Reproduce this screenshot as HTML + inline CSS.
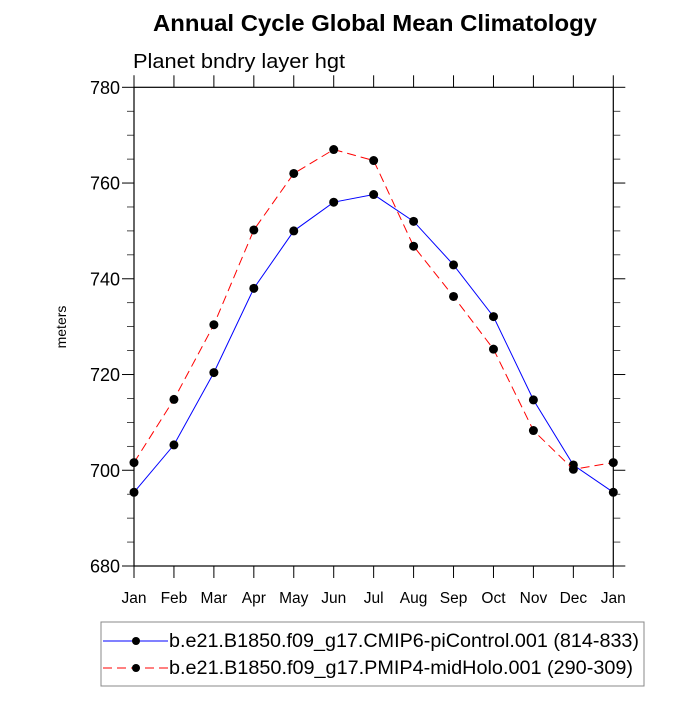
<!DOCTYPE html>
<html><head><meta charset="utf-8"><style>
body{margin:0;background:#fff;font-family:"Liberation Sans",sans-serif}
</style></head><body>
<svg id="chart" width="700" height="700" xmlns="http://www.w3.org/2000/svg" font-family="Liberation Sans, sans-serif">
<text x="153" y="31" font-size="23" font-weight="bold" textLength="444" lengthAdjust="spacingAndGlyphs">Annual Cycle Global Mean Climatology</text>
<text x="133" y="68" font-size="20" textLength="212" lengthAdjust="spacingAndGlyphs">Planet bndry layer hgt</text>
<text transform="translate(66,327) rotate(-90)" text-anchor="middle" font-size="14">meters</text>
<rect x="134" y="87.3" width="479.3" height="478.7" fill="none" stroke="#000" stroke-width="1.2"/>
<g id="axes"></g>
<g id="series"></g>
<g>
<rect x="101" y="622" width="543" height="64" fill="none" stroke="#888" stroke-width="1"/>
<g>
<line x1="103" y1="641" x2="168" y2="641" stroke="#00f" stroke-width="1"/>
<circle cx="136" cy="641" r="4" fill="#000"/>
<text x="169" y="647" font-size="19" textLength="470" lengthAdjust="spacingAndGlyphs">b.e21.B1850.f09_g17.CMIP6-piControl.001 (814-833)</text>
</g>
<g>
<line x1="103" y1="668" x2="168" y2="668" stroke="#f00" stroke-width="1" stroke-dasharray="9,5"/>
<circle cx="136" cy="668" r="4" fill="#000"/>
<text x="169" y="674" font-size="19" textLength="464" lengthAdjust="spacingAndGlyphs">b.e21.B1850.f09_g17.PMIP4-midHolo.001 (290-309)</text>
</g>
</g>
</svg>
<script>
const months = ["Jan","Feb","Mar","Apr","May","Jun","Jul","Aug","Sep","Oct","Nov","Dec","Jan"];
const piControl = [695.4,705.3,720.4,738.0,750.0,756.0,757.6,752.0,742.9,732.1,714.7,701.1,695.4];
const midHolo = [701.6,714.8,730.4,750.2,762.0,767.0,764.7,746.8,736.3,725.3,708.3,700.2,701.6];
const yTicks = [680,700,720,740,760,780];
const NS="http://www.w3.org/2000/svg";
const X0=134,X1=613.3,Y0=566,Y1=87.3,YMIN=680,YMAX=780;
const xs=i=>X0+i*(X1-X0)/(months.length-1);
const ys=v=>Y0-(v-YMIN)*(Y0-Y1)/(YMAX-YMIN);
function mk(tag,attrs,parent){const e=document.createElementNS(NS,tag);for(const k in attrs)e.setAttribute(k,attrs[k]);parent.appendChild(e);return e;}
const ax=document.getElementById('axes');
months.forEach((m,i)=>{
  const x=xs(i);
  const t1=mk('line',{x1:x,y1:Y0,x2:x,y2:Y0+12,stroke:'#000','stroke-width':1},ax);
  
  
  const t2=mk('line',{x1:x,y1:Y1,x2:x,y2:Y1-12,stroke:'#000','stroke-width':1},ax);
  
  
  const tx=mk('text',{x:x,y:603,'text-anchor':'middle','font-size':15.5},ax);
  tx.textContent=m;
  
  
});
for(let v=YMIN;v<=YMAX;v+=5){
  const y=ys(v);const major=(v%20===0);const L=major?12:7;
  mk('line',{x1:X0-L,y1:y,x2:X0,y2:y,stroke:'#000','stroke-width':major?1:0.7},ax);
  mk('line',{x1:X1,y1:y,x2:X1+L,y2:y,stroke:'#000','stroke-width':major?1:0.7},ax);
}
yTicks.forEach(v=>{
  const tx=mk('text',{x:X0-14,y:ys(v)+6.5,'text-anchor':'end','font-size':18},ax);
  tx.textContent=v;
  
  
});
const sg=document.getElementById('series');
function draw(vals,color,dash,name){
  const g=mk('g',{},sg);
  
  
  const p=mk('polyline',{points:vals.map((v,i)=>xs(i)+','+ys(v)).join(' '),fill:'none',stroke:color,'stroke-width':1},g);
  if(dash)p.setAttribute('stroke-dasharray',dash);
  
  
  vals.forEach((v,i)=>{
    const c=mk('circle',{cx:xs(i),cy:ys(v),r:4.5,fill:'#000'},g);
    
    
  });
}
draw(piControl,'#00f',null,'series-picontrol');
draw(midHolo,'#f00','9,5','series-midholo');
</script>
</body></html>
